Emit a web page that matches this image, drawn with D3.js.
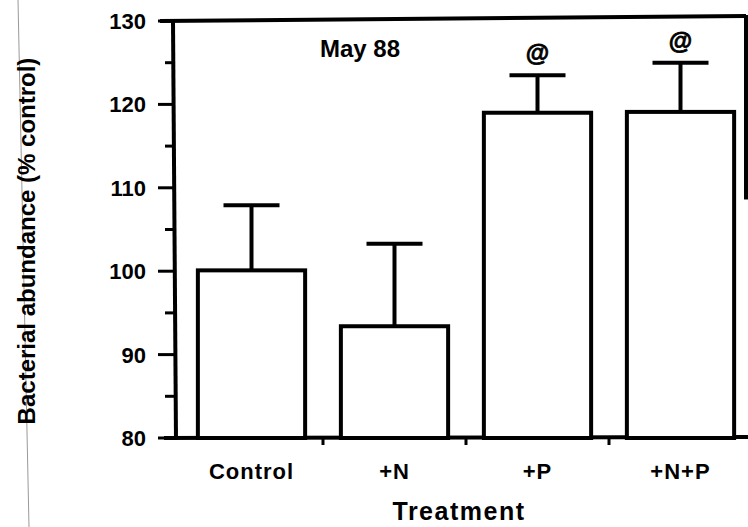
<!DOCTYPE html>
<meta charset="utf-8">
<head>
<title>Bacterial abundance</title>
<style>
body { margin: 0; background-color: #FFF; }
text { font-family: 'Liberation Sans', Arial, sans-serif; fill: #000; }
.bar { fill: #FFF; stroke: #000; stroke-width: 4px; }
.err { stroke: #000; stroke-width: 4px; }
.axis-line { stroke: #000; stroke-width: 4px; }
.tick-line { stroke: #000; stroke-width: 3px; }
</style>
</head>
<body>
<script src="https://cdn.jsdelivr.net/npm/d3@7"></script>
<script>

var treatments = ["Control", "+N", "+P", "+N+P"];
var means = [100.1, 93.4, 119.0, 119.1];
var errTop = [107.9, 103.3, 123.5, 125.0];
var marks = ["", "", "@", "@"];
var yTicks = [80, 90, 100, 110, 120, 130];
var yMinor = [85, 95, 105, 115, 125];

var width = 748, height = 527;

var svg = d3.select("body").append("svg")
    .attr("width", width)
    .attr("height", height);

var x = d3.scaleBand().domain(treatments).range([180, 752])
    .paddingInner(0.25).paddingOuter(0.125);
var y = d3.scaleLinear().domain([80, 130]).range([438, 21]);

// scan edge line on the left
svg.append("line").attr("x1", 18).attr("y1", 0).attr("x2", 29).attr("y2", 527)
    .attr("stroke", "#999").attr("stroke-width", 1);

// frame: left axis, bottom axis, top and right edge
svg.append("line").attr("class", "axis-line")
    .attr("x1", 173).attr("y1", y(130)).attr("x2", 176).attr("y2", y(80) + 2);
svg.append("line").attr("class", "axis-line")
    .attr("x1", 164).attr("y1", y(80)).attr("x2", 748).attr("y2", y(80) - 1);
svg.append("line").attr("class", "axis-line")
    .attr("x1", 160).attr("y1", y(130)).attr("x2", 746).attr("y2", y(130) - 5);
svg.append("line").attr("class", "axis-line")
    .attr("x1", 746).attr("y1", y(130) - 6).attr("x2", 746).attr("y2", y(108.6));

// y ticks
svg.selectAll(".ymaj").data(yTicks).enter().append("line")
    .attr("class", "tick-line")
    .attr("x1", 158).attr("x2", 175)
    .attr("y1", function(d){ return y(d); })
    .attr("y2", function(d){ return y(d); });
svg.selectAll(".ymin").data(yMinor).enter().append("line")
    .attr("class", "tick-line")
    .attr("x1", 165).attr("x2", 175)
    .attr("y1", function(d){ return y(d); })
    .attr("y2", function(d){ return y(d); });
svg.selectAll(".ylab").data(yTicks).enter().append("text")
    .attr("x", 146)
    .attr("y", function(d){ return y(d) + 8; })
    .attr("text-anchor", "end")
    .style("font-size", "22px")
    .style("font-weight", "bold")
    .text(function(d){ return d; });

// x ticks between categories
svg.selectAll(".xtick").data(treatments.slice(1)).enter().append("line")
    .attr("class", "tick-line")
    .attr("x1", function(d){ return x(d) - x.step() * x.paddingInner() / 2; })
    .attr("x2", function(d){ return x(d) - x.step() * x.paddingInner() / 2; })
    .attr("y1", y(80)).attr("y2", y(80) + 7);

// bars
svg.selectAll(".bar").data(treatments).enter().append("rect")
    .attr("class", "bar")
    .attr("x", function(d){ return x(d); })
    .attr("y", function(d, i){ return y(means[i]); })
    .attr("width", x.bandwidth())
    .attr("height", function(d, i){ return y(80) - y(means[i]); });

// error bars
svg.selectAll(".errv").data(treatments).enter().append("line")
    .attr("class", "err")
    .attr("x1", function(d){ return x(d) + x.bandwidth() / 2; })
    .attr("x2", function(d){ return x(d) + x.bandwidth() / 2; })
    .attr("y1", function(d, i){ return y(means[i]); })
    .attr("y2", function(d, i){ return y(errTop[i]); });
svg.selectAll(".errc").data(treatments).enter().append("line")
    .attr("class", "err")
    .attr("x1", function(d){ return x(d) + x.bandwidth() / 2 - 28; })
    .attr("x2", function(d){ return x(d) + x.bandwidth() / 2 + 28; })
    .attr("y1", function(d, i){ return y(errTop[i]); })
    .attr("y2", function(d, i){ return y(errTop[i]); });

// significance marks
svg.selectAll(".sig").data(treatments).enter().append("text")
    .attr("x", function(d){ return x(d) + x.bandwidth() / 2; })
    .attr("y", function(d, i){ return y(errTop[i]) - 14; })
    .attr("text-anchor", "middle")
    .style("font-size", "24px")
    .style("font-weight", "bold")
    .style("stroke", "#000")
    .style("stroke-width", "0.8px")
    .text(function(d, i){ return marks[i]; });

// category labels
svg.selectAll(".xlab").data(treatments).enter().append("text")
    .attr("x", function(d){ return x(d) + x.bandwidth() / 2; })
    .attr("y", 479)
    .attr("text-anchor", "middle")
    .style("font-size", "22px")
    .style("font-weight", "bold")
    .style("letter-spacing", "1px")
    .text(function(d){ return d; });

svg.append("text")
    .attr("x", 360).attr("y", 57)
    .attr("text-anchor", "middle")
    .style("font-size", "24px")
    .style("font-weight", "bold")
    .text("May 88");

svg.append("text")
    .attr("x", 459).attr("y", 520)
    .attr("text-anchor", "middle")
    .style("font-size", "25px")
    .style("font-weight", "bold")
    .style("letter-spacing", "1.5px")
    .text("Treatment");

svg.append("text")
    .attr("transform", "translate(35,241) rotate(-90)")
    .attr("text-anchor", "middle")
    .style("font-size", "24px")
    .style("font-weight", "bold")
    .text("Bacterial abundance (% control)");

</script>
</body>
